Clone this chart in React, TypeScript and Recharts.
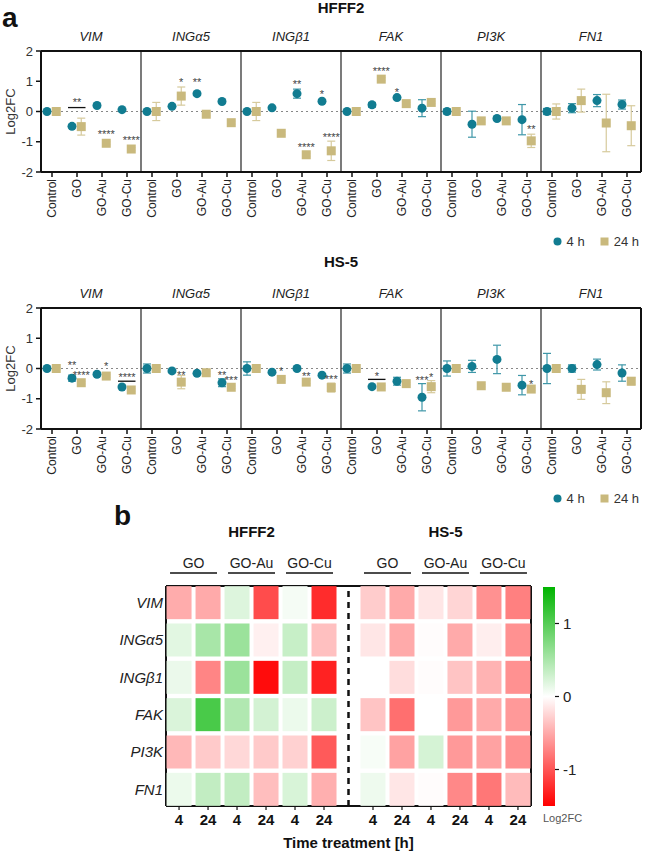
import React from 'react';
import {
  ComposedChart,
  BarChart,
  Bar,
  Scatter,
  XAxis,
  YAxis,
  ErrorBar,
  ReferenceLine,
  Legend,
} from 'recharts';

const FONT = "'Liberation Sans', Arial, Helvetica, sans-serif";
const TEAL = '#117c91';
const TEAL_ERR = '#3f97a8';
const TAN = '#c9b97d';
const TAN_ERR = '#d6ca9c';

const genes = ['VIM', 'INGα5', 'INGβ1', 'FAK', 'PI3K', 'FN1'];
const treatments = ['Control', 'GO', 'GO-Au', 'GO-Cu'];
const groups = ['GO', 'GO-Au', 'GO-Cu'];
const cellLines = ['HFFF2', 'HS-5'];
const timeLabels = ['4', '24'];

// ---- panel a, HFFF2: log2FC, rows = genes, cols = treatments ----
const hfffMean4 = [
  [0, -0.49, 0.2, 0.06],
  [0, 0.17, 0.59, 0.33],
  [0, 0.12, 0.59, 0.34],
  [0, 0.22, 0.46, 0.11],
  [0, -0.42, -0.23, -0.27],
  [0, 0.11, 0.36, 0.23],
];
const hfffErr4 = [
  [0.03, 0.05, 0.04, 0.03],
  [0.03, 0.04, 0.05, 0.04],
  [0.03, 0.05, 0.15, 0.05],
  [0.03, 0.08, 0.05, 0.28],
  [0.08, 0.43, 0.05, 0.5],
  [0.1, 0.15, 0.2, 0.15],
];
const hfffMean24 = [
  [0, -0.5, -1.05, -1.24],
  [0, 0.51, -0.09, -0.37],
  [0, -0.72, -1.43, -1.3],
  [0, 1.07, 0.26, 0.3],
  [0, -0.31, -0.31, -0.97],
  [0, 0.36, -0.38, -0.47],
];
const hfffErr24 = [
  [0.05, 0.28, 0.05, 0.05],
  [0.3, 0.3, 0.05, 0.05],
  [0.3, 0.05, 0.05, 0.32],
  [0.12, 0.05, 0.04, 0.04],
  [0.05, 0.04, 0.05, 0.22],
  [0.25, 0.38, 0.95, 0.66],
];
// [gene, treatment, side (-1 = 4 h, 1 = 24 h, 0 = both), y, label]
const hfffStars: [number, number, number, number, string][] = [
  [0, 1, 0, 0.37, '**'],
  [0, 2, 1, -0.69, '****'],
  [0, 3, 1, -0.86, '****'],
  [1, 1, 1, 1.03, '*'],
  [1, 2, -1, 1.03, '**'],
  [2, 2, -1, 0.96, '**'],
  [2, 2, 1, -1.1, '****'],
  [2, 3, -1, 0.64, '*'],
  [2, 3, 1, -0.78, '****'],
  [3, 1, 1, 1.39, '****'],
  [3, 2, -1, 0.72, '*'],
  [4, 3, 1, -0.52, '**'],
];
const hfffBrackets = [{ g: 0, t: 1, y: 0.13 }];

// ---- panel a, HS-5 ----
const hs5Mean4 = [
  [0, -0.32, -0.19, -0.61],
  [0, -0.08, -0.16, -0.47],
  [0, -0.12, 0, -0.22],
  [0, -0.6, -0.42, -0.95],
  [0, 0.07, 0.3, -0.55],
  [0, 0, 0.13, -0.15],
];
const hs5Err4 = [
  [0.03, 0.1, 0.05, 0.05],
  [0.15, 0.04, 0.04, 0.13],
  [0.22, 0.04, 0.04, 0.04],
  [0.15, 0.04, 0.13, 0.45],
  [0.25, 0.2, 0.47, 0.32],
  [0.5, 0.12, 0.18, 0.27],
];
const hs5Mean24 = [
  [0, -0.47, -0.25, -0.71],
  [0, -0.45, -0.14, -0.62],
  [0, -0.36, -0.45, -0.63],
  [0, -0.61, -0.5, -0.6],
  [0, -0.57, -0.62, -0.68],
  [0, -0.69, -0.8, -0.42],
];
const hs5Err24 = [
  [0.04, 0.04, 0.04, 0.04],
  [0.04, 0.22, 0.04, 0.04],
  [0.04, 0.04, 0.05, 0.15],
  [0.04, 0.04, 0.04, 0.2],
  [0.04, 0.04, 0.04, 0.04],
  [0.04, 0.33, 0.36, 0.12],
];
const hs5Stars: [number, number, number, number, string][] = [
  [0, 1, -1, 0.19, '**'],
  [0, 1, 1, -0.16, '****'],
  [0, 2, 1, 0.16, '*'],
  [0, 3, 0, -0.23, '****'],
  [1, 1, 1, -0.14, '**'],
  [1, 3, -1, -0.14, '**'],
  [1, 3, 1, -0.33, '***'],
  [2, 1, 1, -0.03, '*'],
  [2, 2, 1, -0.17, '**'],
  [2, 3, 1, -0.27, '***'],
  [3, 1, 0, -0.17, '*'],
  [3, 3, -1, -0.31, '***'],
  [3, 3, 1, -0.23, '*'],
  [4, 3, 1, -0.43, '*'],
];
const hs5Brackets = [
  { g: 0, t: 3, y: -0.42 },
  { g: 3, t: 1, y: -0.36 },
];

// ---- panel b heatmap: rows = genes, cols = GO 4/24, GO-Au 4/24, GO-Cu 4/24 ----
const hfffHeat = [
  [-0.49, -0.5, 0.2, -1.05, 0.06, -1.24],
  [0.17, 0.51, 0.59, -0.09, 0.33, -0.37],
  [0.12, -0.72, 0.59, -1.43, 0.34, -1.3],
  [0.22, 1.07, 0.46, 0.26, 0.11, 0.3],
  [-0.42, -0.31, -0.23, -0.31, -0.27, -0.97],
  [0.11, 0.36, 0.36, -0.38, 0.23, -0.47],
];
const hs5Heat = [
  [-0.3, -0.5, -0.15, -0.25, -0.65, -0.75],
  [-0.15, -0.5, -0.02, -0.5, -0.1, -0.65],
  [0, -0.2, -0.02, -0.35, -0.45, -0.65],
  [-0.35, -0.85, 0, -0.6, -0.5, -0.6],
  [0.05, -0.55, 0.25, -0.6, -0.55, -0.65],
  [0.1, -0.15, -0.02, -0.7, -0.8, -0.4],
];
const colorbarRange = [{ n: 'Log2FC', r: [-1.5, 1.5] }];

// layout of the dot plots
const SLOT = 4;
const CENTER = 0.44;
const xOf = (g: number, t: number, side: number) =>
  g * SLOT + t + CENTER + (side < 0 ? -0.2 : side > 0 ? 0.17 : 0);

const pts = (means: number[][], errs: number[][], side: number) =>
  means.flatMap((row, g) => row.map((v, t) => ({ x: xOf(g, t, side), y: v, e: errs[g][t] })));

const catTicks = genes.flatMap((_, g) => treatments.map((__, t) => xOf(g, t, 0)));
const geneTicks = genes.map((_, g) => g * SLOT + SLOT / 2);
const dividers = [4, 8, 12, 16, 20];

const Dot = (p: any) => <circle cx={p.cx} cy={p.cy} r={4.5} fill={TEAL} />;
const Sq = (p: any) => <rect x={p.cx - 4.5} y={p.cy - 4.5} width={9} height={9} fill={TAN} />;
const Star = (p: any) => (
  <text x={p.cx} y={p.cy + 6} textAnchor="middle" fontSize={11} fill="#444" fontFamily={FONT}>
    {p.payload.s}
  </text>
);

const CatTick = (p: any) => {
  const idx = ((Math.round(p.payload.value - CENTER) % SLOT) + SLOT) % SLOT;
  return (
    <text
      x={p.x}
      y={p.y}
      transform={`rotate(-90 ${p.x} ${p.y})`}
      textAnchor="end"
      dy="0.35em"
      fontSize={12}
      fill="#222"
      fontFamily={FONT}
    >
      {treatments[idx]}
    </text>
  );
};

const legendItems = [
  { label: '4 h', color: TEAL, shape: 'circle' },
  { label: '24 h', color: TAN, shape: 'square' },
];

const LegendBox = () => (
  <div
    style={{
      display: 'flex',
      justifyContent: 'flex-end',
      alignItems: 'center',
      height: 16,
      paddingRight: 2,
      fontFamily: FONT,
      fontSize: 13,
      color: '#333',
    }}
  >
    {legendItems.map((it, i) => (
      <span key={it.label} style={{ display: 'flex', alignItems: 'center', marginLeft: i ? 15 : 0 }}>
        <svg width={9} height={9} style={{ marginRight: 5 }}>
          {it.shape === 'circle' ? (
            <circle cx={4.5} cy={4.5} r={4} fill={it.color} />
          ) : (
            <rect x={0.5} y={0.5} width={8} height={8} fill={it.color} />
          )}
        </svg>
        {it.label}
      </span>
    ))}
  </div>
);

function RowChart(props: {
  mean4: number[][];
  err4: number[][];
  mean24: number[][];
  err24: number[][];
  stars: [number, number, number, number, string][];
  brackets: { g: number; t: number; y: number }[];
}) {
  const d4 = pts(props.mean4, props.err4, -1);
  const d24 = pts(props.mean24, props.err24, 1);
  const starData = props.stars.map(([g, t, side, y, s]) => ({ x: xOf(g, t, side), y, s }));

  return (
    <ComposedChart width={645} height={254} margin={{ top: 21, right: 4, bottom: 5, left: 0 }}>
      <XAxis
        xAxisId="top"
        orientation="top"
        type="number"
        dataKey="x"
        domain={[0, 24]}
        allowDataOverflow
        ticks={geneTicks}
        interval={0}
        tickFormatter={(v: number) => genes[Math.round((v - 2) / 4)]}
        axisLine={false}
        tickLine={false}
        tickMargin={4}
        height={30}
        tick={{ fontSize: 13, fontStyle: 'italic', fill: '#222', fontFamily: FONT }}
      />
      <XAxis
        type="number"
        dataKey="x"
        domain={[0, 24]}
        allowDataOverflow
        ticks={catTicks}
        interval={0}
        tick={<CatTick />}
        tickSize={5}
        height={61}
        axisLine={{ stroke: '#111', strokeWidth: 2 }}
        tickLine={{ stroke: '#111', strokeWidth: 1.5 }}
      />
      <YAxis
        type="number"
        domain={[-2, 2]}
        ticks={[-2, -1, 0, 1, 2]}
        width={41}
        tickSize={5}
        tickMargin={3}
        axisLine={{ stroke: '#111', strokeWidth: 2 }}
        tickLine={{ stroke: '#111', strokeWidth: 1.5 }}
        tick={{ fontSize: 13, fill: '#333', fontFamily: FONT }}
        label={{
          value: 'Log2FC',
          angle: -90,
          position: 'insideLeft',
          offset: 10,
          fontSize: 13,
          fill: '#333',
          fontFamily: FONT,
          style: { textAnchor: 'middle' },
        }}
      />
      <ReferenceLine y={0} stroke="#888" strokeDasharray="2 3" />
      {dividers.map((x) => (
        <ReferenceLine key={x} x={x} stroke="#222" strokeWidth={1.2} />
      ))}
      <ReferenceLine y={2} stroke="#111" strokeWidth={2} />
      <ReferenceLine x={24} stroke="#111" strokeWidth={2} />
      {props.brackets.map((b, i) => (
        <ReferenceLine
          key={i}
          segment={[
            { x: xOf(b.g, b.t, 0) - 0.36, y: b.y },
            { x: xOf(b.g, b.t, 0) + 0.34, y: b.y },
          ]}
          stroke="#111"
          strokeWidth={1.3}
        />
      ))}
      <Scatter name="4 h" data={d4} dataKey="y" fill={TEAL} shape={Dot} isAnimationActive={false}>
        <ErrorBar dataKey="e" direction="y" width={4} stroke={TEAL_ERR} strokeWidth={1.2} />
      </Scatter>
      <Scatter name="24 h" data={d24} dataKey="y" fill={TAN} shape={Sq} isAnimationActive={false}>
        <ErrorBar dataKey="e" direction="y" width={4} stroke={TAN_ERR} strokeWidth={1.2} />
      </Scatter>
      {/* significance marks ride on the top axis (same domain) so that axis gets drawn */}
      <Scatter
        xAxisId="top"
        data={starData}
        dataKey="y"
        shape={Star}
        legendType="none"
        isAnimationActive={false}
      />
      <Legend verticalAlign="bottom" align="right" height={16} content={<LegendBox />} />
    </ComposedChart>
  );
}

// ---- heatmap ----
const HS5_SHIFT = 6.69;
const X_MAX = 12.14;
const heatColor = (v: number) => {
  const t = Math.min(1, Math.abs(v) / 1.5);
  if (v < 0) {
    const c = Math.round(255 * (1 - t));
    return `rgb(255,${c},${c})`;
  }
  const rb = Math.round(255 * (1 - t));
  const g = Math.round(255 - 75 * t);
  return `rgb(${rb},${g},${rb})`;
};

const hfffCells = hfffHeat.flatMap((row, r) => row.map((v, c) => ({ x: c, y: r, v })));
const hs5Cells = hs5Heat.flatMap((row, r) => row.map((v, c) => ({ x: c + HS5_SHIFT, y: r, v })));
const colTicks = [0, 1, 2, 3, 4, 5].concat([0, 1, 2, 3, 4, 5].map((c) => c + HS5_SHIFT));
const pairTicks = [0.5, 2.5, 4.5].concat([0.5, 2.5, 4.5].map((c) => c + HS5_SHIFT));

const HeatCell = (p: any) => (
  <rect x={p.cx - 12.5} y={p.cy - 16.5} width={25} height={33} fill={heatColor(p.payload.v)} />
);

const GroupTick = (p: any) => {
  const i = p.index;
  const { x, y } = p;
  return (
    <g fontFamily={FONT}>
      {i % 3 === 1 && (
        <text x={x} y={y - 49} textAnchor="middle" fontSize={15} fontWeight="bold" fill="#111">
          {cellLines[Math.floor(i / 3)]}
        </text>
      )}
      <text x={x} y={y - 18} textAnchor="middle" fontSize={14} fill="#222">
        {groups[i % 3]}
      </text>
      <line x1={x - 23.5} x2={x + 23.5} y1={y - 13} y2={y - 13} stroke="#111" strokeWidth={1.5} />
    </g>
  );
};

function HeatMap() {
  return (
    <ComposedChart width={540} height={351} margin={{ top: 26, right: 9, bottom: 0, left: 0 }}>
      <XAxis
        xAxisId="top"
        orientation="top"
        type="number"
        dataKey="x"
        domain={[-0.45, X_MAX]}
        allowDataOverflow
        ticks={pairTicks}
        interval={0}
        tick={<GroupTick />}
        tickSize={0}
        tickMargin={0}
        height={60}
        axisLine={{ stroke: '#111', strokeWidth: 2 }}
        tickLine={false}
      />
      <XAxis
        type="number"
        dataKey="x"
        domain={[-0.45, X_MAX]}
        allowDataOverflow
        ticks={colTicks}
        interval={0}
        tickFormatter={(_v: number, i: number) => timeLabels[i % 2]}
        tickSize={4}
        tickMargin={4}
        height={45}
        axisLine={{ stroke: '#111', strokeWidth: 2 }}
        tickLine={{ stroke: '#111', strokeWidth: 1.2 }}
        tick={{ fontSize: 15, fontWeight: 'bold', fill: '#111', fontFamily: FONT }}
        label={{
          value: 'Time treatment [h]',
          position: 'insideBottom',
          offset: 3,
          fontSize: 15,
          fontWeight: 'bold',
          fill: '#111',
          fontFamily: FONT,
        }}
      />
      <YAxis
        type="number"
        dataKey="y"
        domain={[-0.446, 5.446]}
        reversed
        ticks={[0, 1, 2, 3, 4, 5]}
        interval={0}
        tickFormatter={(v: number) => genes[v]}
        width={166}
        tickSize={0}
        tickMargin={3}
        axisLine={{ stroke: '#111', strokeWidth: 2 }}
        tickLine={false}
        tick={{ fontSize: 15, fontStyle: 'italic', fill: '#222', fontFamily: FONT }}
      />
      <Scatter data={hfffCells} dataKey="y" shape={HeatCell} isAnimationActive={false} />
      {/* HS-5 block drawn against the top axis, which has the same domain */}
      <Scatter xAxisId="top" data={hs5Cells} dataKey="y" shape={HeatCell} isAnimationActive={false} />
      <ReferenceLine x={X_MAX} stroke="#111" strokeWidth={2} />
      <ReferenceLine x={(5 + HS5_SHIFT) / 2} stroke="#111" strokeWidth={2.5} strokeDasharray="6 5" />
    </ComposedChart>
  );
}

function ColorBar() {
  return (
    <BarChart
      width={80}
      height={270}
      data={colorbarRange}
      margin={{ top: 17, right: 0, bottom: 4, left: 13 }}
      barCategoryGap={0}
    >
      <XAxis
        dataKey="n"
        height={30}
        tick={false}
        axisLine={false}
        tickLine={false}
        label={{
          value: 'Log2FC',
          position: 'insideTopLeft',
          offset: 0,
          dy: 8,
          fontSize: 11,
          fill: '#555',
          fontFamily: FONT,
        }}
      />
      <YAxis
        orientation="right"
        type="number"
        domain={[-1.5, 1.5]}
        ticks={[-1, 0, 1]}
        width={55}
        tickSize={4}
        tickMargin={4}
        axisLine={false}
        tickLine={{ stroke: '#111', strokeWidth: 1.2 }}
        tick={{ fontSize: 15, fill: '#222', fontFamily: FONT }}
      />
      <Bar dataKey="r" fill="url(#cbGrad)" isAnimationActive={false} />
    </BarChart>
  );
}

const abs = (left: number, top: number): React.CSSProperties => ({ position: 'absolute', left, top });

export default function App() {
  return (
    <div
      style={{
        position: 'absolute',
        left: 0,
        top: 0,
        width: 645,
        height: 851,
        background: '#fff',
        fontFamily: FONT,
        overflow: 'hidden',
      }}
    >
      <svg width={0} height={0} style={{ position: 'absolute' }}>
        <defs>
          <linearGradient id="cbGrad" x1="0" y1="0" x2="0" y2="1">
            <stop offset="0%" stopColor="rgb(0,180,0)" />
            <stop offset="50%" stopColor="#ffffff" />
            <stop offset="100%" stopColor="rgb(255,0,0)" />
          </linearGradient>
        </defs>
      </svg>

      <div style={{ ...abs(241, 0), width: 200, textAlign: 'center', fontSize: 15, fontWeight: 'bold', lineHeight: '16px', color: '#111' }}>
        HFFF2
      </div>
      <div style={{ ...abs(241, 254), width: 200, textAlign: 'center', fontSize: 15, fontWeight: 'bold', lineHeight: '16px', color: '#111' }}>
        HS-5
      </div>

      <div style={abs(0, 0)}>
        <RowChart
          mean4={hfffMean4}
          err4={hfffErr4}
          mean24={hfffMean24}
          err24={hfffErr24}
          stars={hfffStars}
          brackets={hfffBrackets}
        />
      </div>
      <div style={abs(0, 257)}>
        <RowChart
          mean4={hs5Mean4}
          err4={hs5Err4}
          mean24={hs5Mean24}
          err24={hs5Err24}
          stars={hs5Stars}
          brackets={hs5Brackets}
        />
      </div>
      <div style={abs(0, 500)}>
        <HeatMap />
      </div>
      <div style={abs(530, 570)}>
        <ColorBar />
      </div>

      <div style={{ ...abs(2, 2), fontSize: 28, fontWeight: 'bold', lineHeight: '32px', color: '#111' }}>a</div>
      <div style={{ ...abs(114, 500), fontSize: 28, fontWeight: 'bold', lineHeight: '32px', color: '#111' }}>b</div>
    </div>
  );
}
